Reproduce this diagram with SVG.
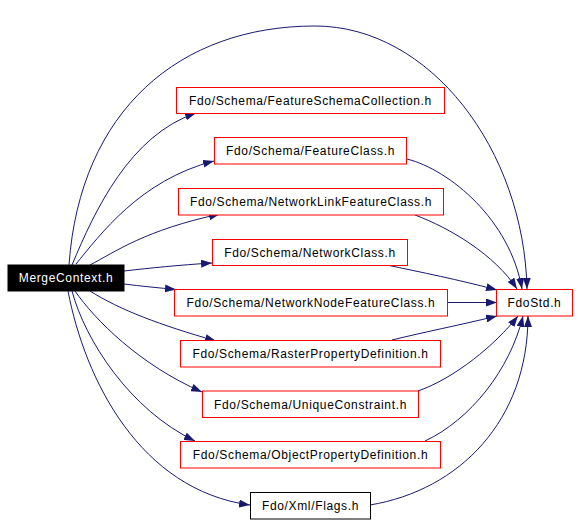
<svg xmlns="http://www.w3.org/2000/svg" width="579" height="525" viewBox="0 0 579 525">
<style>
.n rect{fill:#fff;stroke:#f00;stroke-width:1}
.n text{font-family:"Liberation Sans",Arial,sans-serif;font-size:12px;letter-spacing:0.65px;text-anchor:middle;fill:#000}
#mc rect{fill:#000;stroke:#000}
#mc text{fill:#fff}
#flags rect{stroke:#000}
.e path{fill:none;stroke:#191970;stroke-width:1;marker-end:url(#ah)}
</style>
<defs>
<marker id="ah" markerWidth="12" markerHeight="8" refX="11" refY="4" orient="auto" markerUnits="userSpaceOnUse">
<path d="M0,0 L11,4 L0,8 z" fill="#191970" stroke="none"/>
</marker>
</defs>
<g id="edges" class="e">
<path d="M69,265 C80,110 180,26 315,26 C430,26 524,150 527,289"/>
<path d="M72,265 C95,210 130,135 196,113"/>
<path d="M76,264 C100,235 140,180 214,161"/>
<path d="M90,265 C115,252 145,230 220,214"/>
<path d="M124,271 C150,268 180,265 212,263"/>
<path d="M124,284 C140,286 160,288 176,289.5"/>
<path d="M90,291 C120,310 160,325 216,341"/>
<path d="M75,291 C95,320 140,365 202,392"/>
<path d="M72,291 C85,340 130,410 195,441"/>
<path d="M68,291 C85,380 140,490 250,505"/>
<path d="M407,159 C450,170 510,220 522,289"/>
<path d="M415,215 C450,228 495,255 517,289"/>
<path d="M387,265 C420,272 460,280 497,290"/>
<path d="M447,302.5 L497,302.5"/>
<path d="M392,340 C420,333 460,325 497,316"/>
<path d="M418,391 C455,378 495,345 518,316"/>
<path d="M425,441 C470,420 510,370 523,316"/>
<path d="M370,505 C460,490 528,420 528,316"/>
</g>
<g id="mc" class="n"><rect x="8" y="265" width="116" height="26"/><text x="66" y="282">MergeContext.h</text></g>
<g id="fsc" class="n"><rect x="176.5" y="87.5" width="268" height="26"/><text x="310.5" y="105">Fdo/Schema/FeatureSchemaCollection.h</text></g>
<g id="fc" class="n"><rect x="214.5" y="137.5" width="192" height="26.5"/><text x="310.5" y="155">Fdo/Schema/FeatureClass.h</text></g>
<g id="nlfc" class="n"><rect x="178.5" y="188.5" width="265" height="26.5"/><text x="311" y="206">Fdo/Schema/NetworkLinkFeatureClass.h</text></g>
<g id="nc" class="n"><rect x="212.5" y="239.5" width="195" height="26"/><text x="310" y="257">Fdo/Schema/NetworkClass.h</text></g>
<g id="nnfc" class="n"><rect x="174.5" y="289.5" width="273" height="26.5"/><text x="311" y="307">Fdo/Schema/NetworkNodeFeatureClass.h</text></g>
<g id="fdostd" class="n"><rect x="496.5" y="289.5" width="76" height="26.5"/><text x="534.5" y="307">FdoStd.h</text></g>
<g id="rpd" class="n"><rect x="180.5" y="340.5" width="260" height="26.5"/><text x="310.5" y="358">Fdo/Schema/RasterPropertyDefinition.h</text></g>
<g id="uc" class="n"><rect x="202.5" y="391" width="216" height="26.5"/><text x="310.5" y="408.5">Fdo/Schema/UniqueConstraint.h</text></g>
<g id="opd" class="n"><rect x="180.5" y="441.5" width="260" height="26.5"/><text x="310.5" y="459">Fdo/Schema/ObjectPropertyDefinition.h</text></g>
<g id="flags" class="n"><rect x="250.5" y="492.5" width="120" height="26.5"/><text x="310.5" y="510">Fdo/Xml/Flags.h</text></g>
</svg>
